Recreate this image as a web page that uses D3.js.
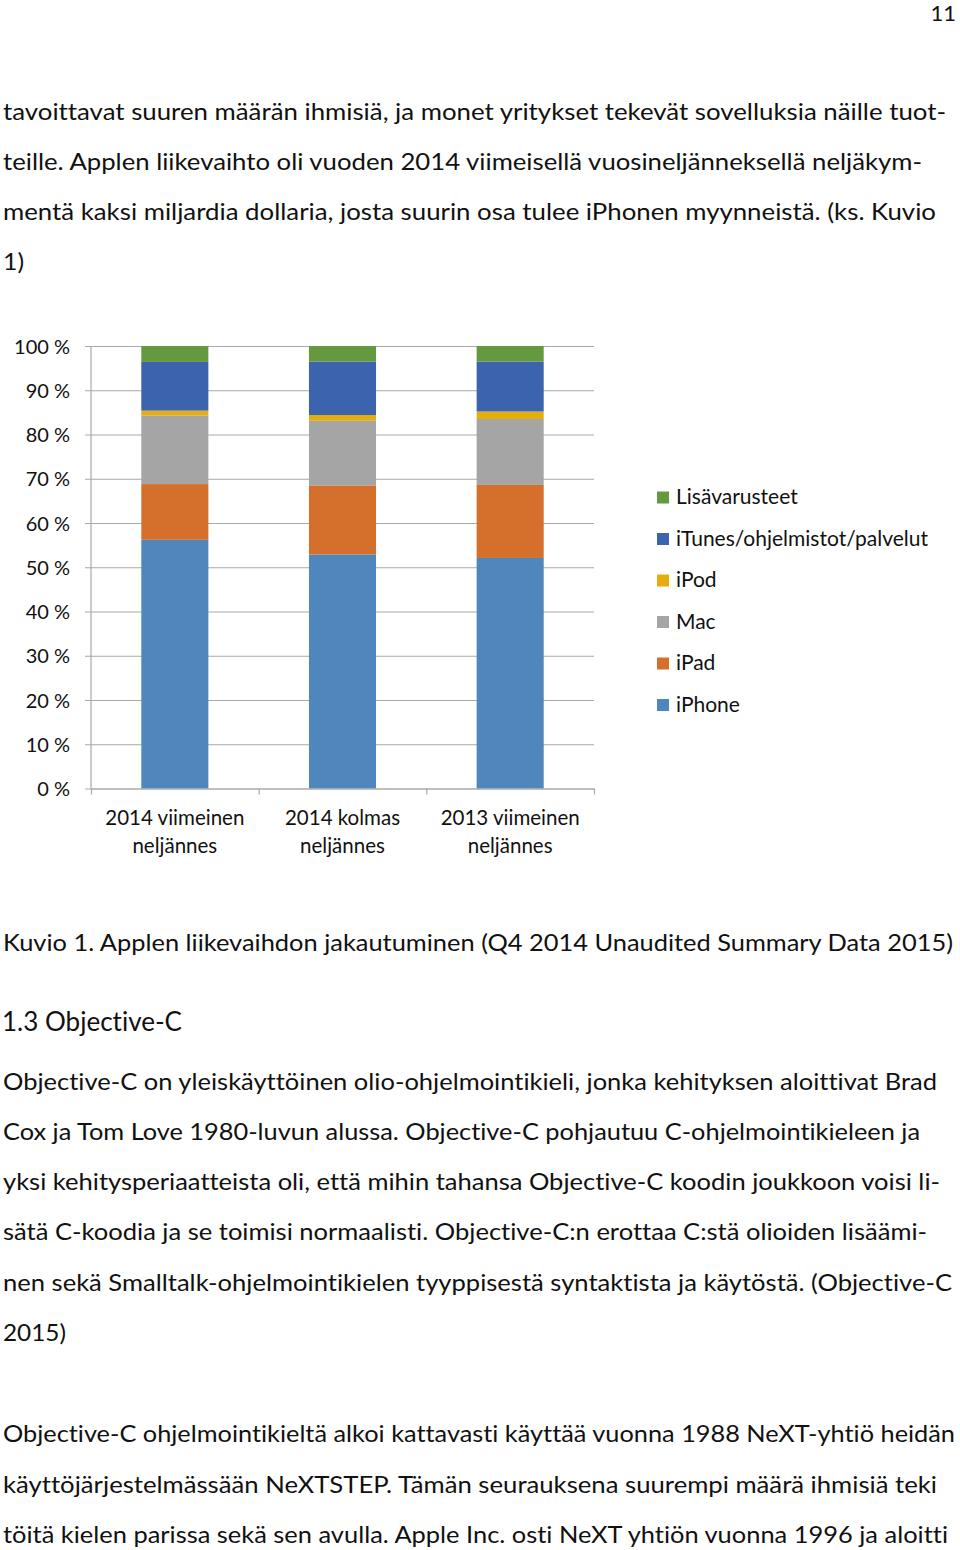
<!DOCTYPE html>
<html>
<head>
<meta charset="utf-8">
<script src="https://cdn.jsdelivr.net/npm/d3@7"></script>
<style>
  html, body { margin: 0; padding: 0; background: #fff; }
  svg { display: block; font-family: Lato, "Open Sans", sans-serif; font-variant-ligatures: none; }
</style>
</head>
<body>
<svg id="page" width="960" height="1550"></svg>
<script>
// ---- Chart data ----
const categories = ["2014 viimeinen neljännes", "2014 kolmas neljännes", "2013 viimeinen neljännes"];
const categoryLines = [["2014 viimeinen", "neljännes"], ["2014 kolmas", "neljännes"], ["2013 viimeinen", "neljännes"]];
const seriesNames = ["iPhone", "iPad", "Mac", "iPod", "iTunes/ohjelmistot/palvelut", "Lisävarusteet"];
const iPhone = [56.2, 52.9, 52.1];
const iPad = [12.6, 15.6, 16.5];
const mac = [15.5, 14.6, 14.9];
const iPod = [1.1, 1.3, 1.7];
const iTunes = [11.0, 12.1, 11.3];
const lisavarusteet = [3.6, 3.5, 3.5];
const yTicks = [0, 10, 20, 30, 40, 50, 60, 70, 80, 90, 100];
const seriesColors = ["#4f87bd", "#d4702b", "#a5a5a5", "#e3ae0e", "#3c63ad", "#64993f"];

// ---- Page text ----
const topLines = [
  "tavoittavat suuren määrän ihmisiä, ja monet yritykset tekevät sovelluksia näille tuot-",
  "teille. Applen liikevaihto oli vuoden 2014 viimeisellä vuosineljänneksellä neljäkym-",
  "mentä kaksi miljardia dollaria, josta suurin osa tulee iPhonen myynneistä. (ks. Kuvio",
  "1)"
];
const caption = "Kuvio 1. Applen liikevaihdon jakautuminen (Q4 2014 Unaudited Summary Data 2015)";
const heading = "1.3 Objective-C";
const para1 = [
  "Objective-C on yleiskäyttöinen olio-ohjelmointikieli, jonka kehityksen aloittivat Brad",
  "Cox ja Tom Love 1980-luvun alussa. Objective-C pohjautuu C-ohjelmointikieleen ja",
  "yksi kehitysperiaatteista oli, että mihin tahansa Objective-C koodin joukkoon voisi li-",
  "sätä C-koodia ja se toimisi normaalisti. Objective-C:n erottaa C:stä olioiden lisäämi-",
  "nen sekä Smalltalk-ohjelmointikielen tyyppisestä syntaktista ja käytöstä. (Objective-C",
  "2015)"
];
const para2 = [
  "Objective-C ohjelmointikieltä alkoi kattavasti käyttää vuonna 1988 NeXT-yhtiö heidän",
  "käyttöjärjestelmässään NeXTSTEP. Tämän seurauksena suurempi määrä ihmisiä teki",
  "töitä kielen parissa sekä sen avulla. Apple Inc. osti NeXT yhtiön vuonna 1996 ja aloitti"
];

// ---- Layout (positions / sizes) ----
const topBaselines = [119.5, 169.8, 220, 270.3];
const topWidths = [943, 919, 933, 21];
const para1Baselines = [1089.5, 1140, 1190, 1240, 1290.5, 1341];
const para1Widths = [934, 917, 937, 924, 949, 63];
const para2Baselines = [1442, 1492.5, 1543];
const para2Widths = [952, 934, 945];

const svg = d3.select("#page");
const textColor = "#111";

function bodyLine(str, x, y, width, size) {
  const t = svg.append("text")
    .attr("x", x).attr("y", y)
    .attr("font-size", size)
    .attr("fill", textColor)
    .text(str);
  if (width) t.attr("textLength", width).attr("lengthAdjust", "spacingAndGlyphs");
  return t;
}

// Page number
svg.append("text").attr("x", 956).attr("y", 21).attr("text-anchor", "end")
  .attr("font-size", 22).attr("fill", textColor).text("11");

topLines.forEach((s, i) => bodyLine(s, 3, topBaselines[i], topWidths[i], 23));
bodyLine(caption, 3, 950.5, 950, 23);
bodyLine(heading, 2, 1031, 180, 26);
para1.forEach((s, i) => bodyLine(s, 3, para1Baselines[i], para1Widths[i], 23));
para2.forEach((s, i) => bodyLine(s, 3, para2Baselines[i], para2Widths[i], 23));

// ---- Chart ----
const plotLeft = 91, plotRight = 594, plotTop = 346, plotBottom = 788.5;
const x = d3.scaleBand().domain(categories).range([plotLeft, plotRight]).paddingInner(0.6).paddingOuter(0.3);
const y = d3.scaleLinear().domain([0, 100]).range([plotBottom, plotTop]);

const rows = categories.map((c, i) => ({
  category: c,
  "iPhone": iPhone[i],
  "iPad": iPad[i],
  "Mac": mac[i],
  "iPod": iPod[i],
  "iTunes/ohjelmistot/palvelut": iTunes[i],
  "Lisävarusteet": lisavarusteet[i]
}));
const stacked = d3.stack().keys(seriesNames)(rows);
const color = d3.scaleOrdinal().domain(seriesNames).range(seriesColors);

const gridColor = "#a9a9a9";
// Gridlines
const yAxis = d3.axisLeft(y).tickValues(yTicks).tickSize(plotRight - plotLeft + 6)
  .tickFormat(d => d + " %");
const gy = svg.append("g").attr("transform", `translate(${plotRight},0)`).call(yAxis);
gy.select(".domain").remove();
gy.selectAll(".tick line").attr("stroke", gridColor).attr("stroke-width", 1.2);
gy.selectAll(".tick text").attr("x", -(plotRight - plotLeft + 21)).attr("dy", "0.36em")
  .attr("font-size", 20).attr("fill", textColor).attr("font-family", "Lato, sans-serif");

// Bars
svg.append("g").selectAll("g").data(stacked).join("g")
  .attr("fill", d => color(d.key))
  .selectAll("rect").data(d => d).join("rect")
  .attr("x", d => x(d.data.category))
  .attr("width", x.bandwidth())
  .attr("y", d => y(d[1]))
  .attr("height", d => y(d[0]) - y(d[1]));

// Vertical axis line
svg.append("line").attr("x1", plotLeft).attr("x2", plotLeft).attr("y1", plotTop).attr("y2", plotBottom)
  .attr("stroke", gridColor).attr("stroke-width", 1.2);

// Bottom axis with category boundary ticks
const xb = d3.scaleLinear().domain([0, categories.length]).range([plotLeft, plotRight]);
const gx = svg.append("g").attr("transform", `translate(0,${plotBottom})`)
  .call(d3.axisBottom(xb).tickValues(d3.range(categories.length + 1)).tickSize(6).tickSizeOuter(0).tickFormat(""));
gx.select(".domain").attr("stroke", gridColor).attr("stroke-width", 1.2);
gx.selectAll(".tick line").attr("stroke", gridColor).attr("stroke-width", 1.2);

// Category labels
const labelG = svg.append("g");
categories.forEach((c, i) => {
  const t = labelG.append("text")
    .attr("x", x(c) + x.bandwidth() / 2)
    .attr("text-anchor", "middle")
    .attr("font-size", 20.5).attr("fill", textColor);
  categoryLines[i].forEach((ln, j) => {
    t.append("tspan").attr("x", x(c) + x.bandwidth() / 2).attr("y", 825 + j * 28).text(ln);
  });
});

// Legend (top = last series)
const legendItems = seriesNames.slice().reverse();
const lg = svg.append("g");
legendItems.forEach((name, i) => {
  const yy = 504 + i * 41.5;
  lg.append("rect").attr("x", 657).attr("y", yy - 12.5).attr("width", 12).attr("height", 12)
    .attr("fill", color(name));
  lg.append("text").attr("x", 676).attr("y", yy).attr("font-size", 21)
    .attr("fill", textColor).text(name);
});
</script>
</body>
</html>
